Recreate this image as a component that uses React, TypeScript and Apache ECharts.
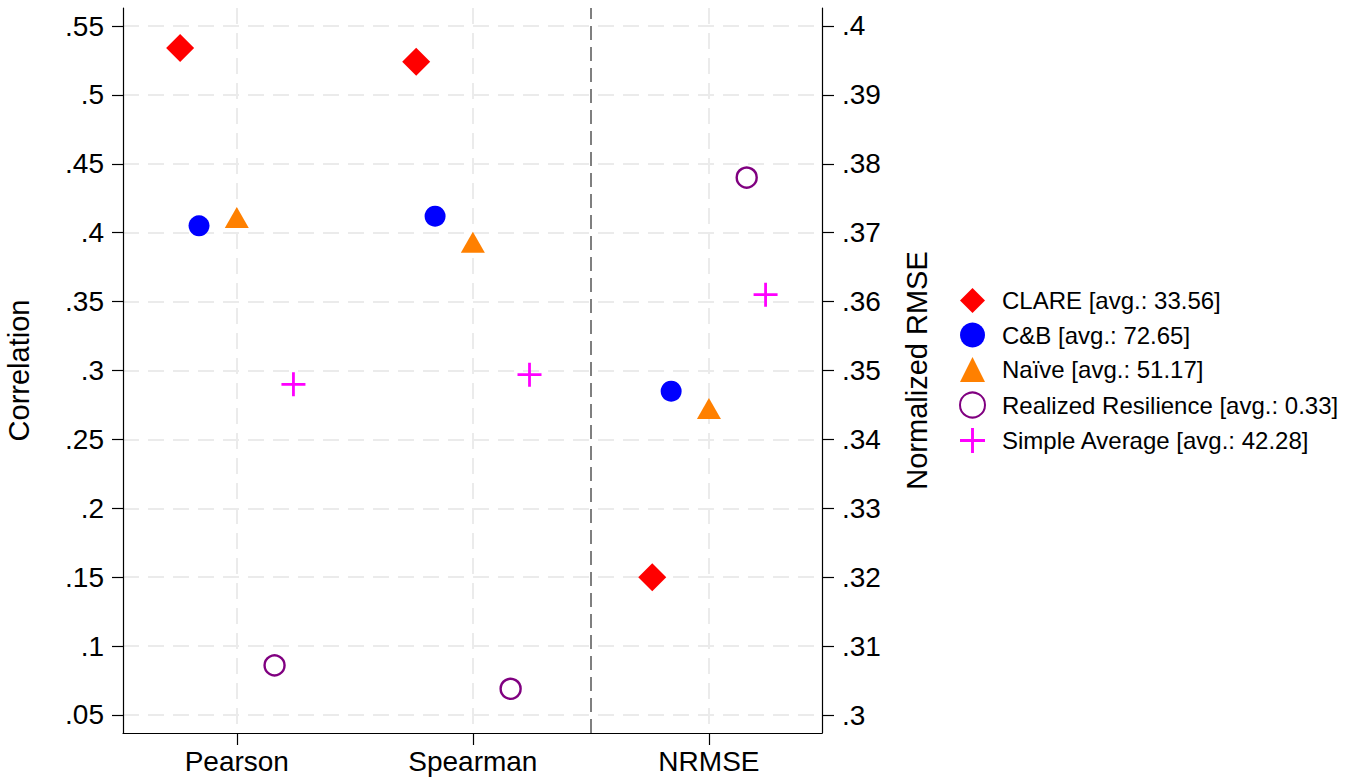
import React, { useEffect, useRef } from "react";
import * as echarts from "echarts";

const CATEGORIES = ["Pearson", "Spearman", "NRMSE"];
const METHODS = [
  "CLARE [avg.: 33.56]",
  "C&B [avg.: 72.65]",
  "Naïve [avg.: 51.17]",
  "Realized Resilience [avg.: 0.33]",
  "Simple Average [avg.: 42.28]",
];
// values per category: Pearson, Spearman (left axis), NRMSE (right axis)
const CLARE = [0.534, 0.524, 0.32];
const CB = [0.405, 0.412, 0.347];
const NAIVE = [0.411, 0.393, 0.3445];
const REALIZED = [0.086, 0.069, 0.378];
const SIMPLE = [0.29, 0.297, 0.361];
const VALUES = [CLARE, CB, NAIVE, REALIZED, SIMPLE];

const LEFT_TICKS = [0.05, 0.1, 0.15, 0.2, 0.25, 0.3, 0.35, 0.4, 0.45, 0.5, 0.55];
const RIGHT_TICKS = [0.3, 0.31, 0.32, 0.33, 0.34, 0.35, 0.36, 0.37, 0.38, 0.39, 0.4];

// horizontal dodge of each method within a category (layout)
const DODGE = [-0.24, -0.16, 0, 0.16, 0.24];

const PLUS = "path://M10.6,0H13.4V10.6H24V13.4H13.4V24H10.6V13.4H0V10.6H10.6Z";
const STYLES: any[] = [
  { symbol: "diamond", symbolSize: 28, itemStyle: { color: "#ff0000", opacity: 1 } },
  { symbol: "circle", symbolSize: 21, itemStyle: { color: "#0000ff", opacity: 1 } },
  { symbol: "triangle", symbolSize: [24, 21], itemStyle: { color: "#ff8000", opacity: 1 } },
  {
    symbol: "circle",
    symbolSize: 20,
    itemStyle: { color: "rgba(255,255,255,0)", borderColor: "#800080", borderWidth: 2.4, opacity: 1 },
  },
  { symbol: PLUS, symbolSize: 24, itemStyle: { color: "#ff00ff", opacity: 1 } },
];

const fmt = (v: number) => {
  let s = Number(v).toFixed(2).replace(/0+$/, "").replace(/\.$/, "");
  return s.replace(/^0\./, ".");
};

const FONT = "'Liberation Sans', Arial, Helvetica, sans-serif";

export default function App() {
  const ref = useRef<HTMLDivElement>(null);
  useEffect(() => {
    if (!ref.current) return;
    const chart = echarts.init(ref.current, null, { renderer: "svg" });
    const series: any[] = [];
    METHODS.forEach((name, i) => {
      const vals = VALUES[i];
      const st = STYLES[i];
      series.push({
        name,
        type: "scatter",
        xAxisIndex: 0,
        yAxisIndex: 0,
        ...st,
        data: [
          [1 + DODGE[i], vals[0]],
          [2 + DODGE[i], vals[1]],
        ],
        ...(i === 0
          ? {
              markLine: {
                silent: true,
                symbol: ["none", "none"],
                label: { show: false },
                lineStyle: { color: "#7f7f7f", width: 2, type: [14, 7] },
                data: [{ xAxis: 2.5 }],
              },
            }
          : {}),
      });
      series.push({
        name,
        type: "scatter",
        xAxisIndex: 0,
        yAxisIndex: 1,
        ...st,
        data: [[3 + DODGE[i], vals[2]]],
      });
    });

    const gridLine = { show: true, lineStyle: { color: "#ebebeb", width: 2, type: [16, 9] } };
    const axisLine = { show: true, lineStyle: { color: "#000", width: 1.2 } };

    chart.setOption({
      animation: false,
      backgroundColor: "#fff",
      textStyle: { fontFamily: FONT },
      grid: {
        left: 123,
        right: 525,
        top: 8,
        bottom: 47,
        containLabel: false,
        outerBoundsMode: "none",
      },
      legend: {
        orient: "vertical",
        left: 954,
        top: 283,
        itemWidth: 25,
        itemHeight: 25,
        itemGap: 9.5,
        data: METHODS,
        textStyle: {
          fontSize: 24,
          color: "#000",
          fontFamily: FONT,
          lineHeight: 25,
          padding: [0, 0, 0, 12],
        },
      },
      xAxis: {
        type: "value",
        min: 0.518,
        max: 3.479,
        axisLine: { ...axisLine, onZero: false },
        axisTick: { show: true, length: 12, customValues: [1, 2, 3], lineStyle: { color: "#000", width: 1.2 } },
        axisLabel: {
          customValues: [1, 2, 3],
          formatter: (v: number) => CATEGORIES[Math.round(v) - 1],
          fontSize: 28,
          lineHeight: 28,
          color: "#000",
          margin: 14,
        },
        splitLine: gridLine,
      },
      yAxis: [
        {
          type: "value",
          position: "left",
          min: 0.0369,
          max: 0.5631,
          name: "Correlation",
          nameLocation: "middle",
          nameRotate: 90,
          nameGap: 90,
          nameTextStyle: { fontSize: 29, color: "#000" },
          axisLine: { ...axisLine, onZero: false },
          axisTick: { show: true, length: 11, customValues: LEFT_TICKS, lineStyle: { color: "#000", width: 1.2 } },
          axisLabel: { customValues: LEFT_TICKS, formatter: fmt, fontSize: 28, color: "#000", margin: 19 },
          splitLine: gridLine,
        },
        {
          type: "value",
          position: "right",
          min: 0.29739,
          max: 0.40261,
          name: "Normalized RMSE",
          nameLocation: "middle",
          nameRotate: 90,
          nameGap: 80,
          nameTextStyle: { fontSize: 29, color: "#000" },
          axisLine: { ...axisLine, onZero: false },
          axisTick: { show: true, length: 12, customValues: RIGHT_TICKS, lineStyle: { color: "#000", width: 1.2 } },
          axisLabel: { customValues: RIGHT_TICKS, formatter: fmt, fontSize: 28, color: "#000", margin: 20 },
          splitLine: { show: false },
        },
      ],
      series,
    });
    return () => chart.dispose();
  }, []);
  return (
    <div
      ref={ref}
      style={{ position: "fixed", left: 0, top: 0, width: 1347, height: 780, background: "#fff" }}
    />
  );
}
